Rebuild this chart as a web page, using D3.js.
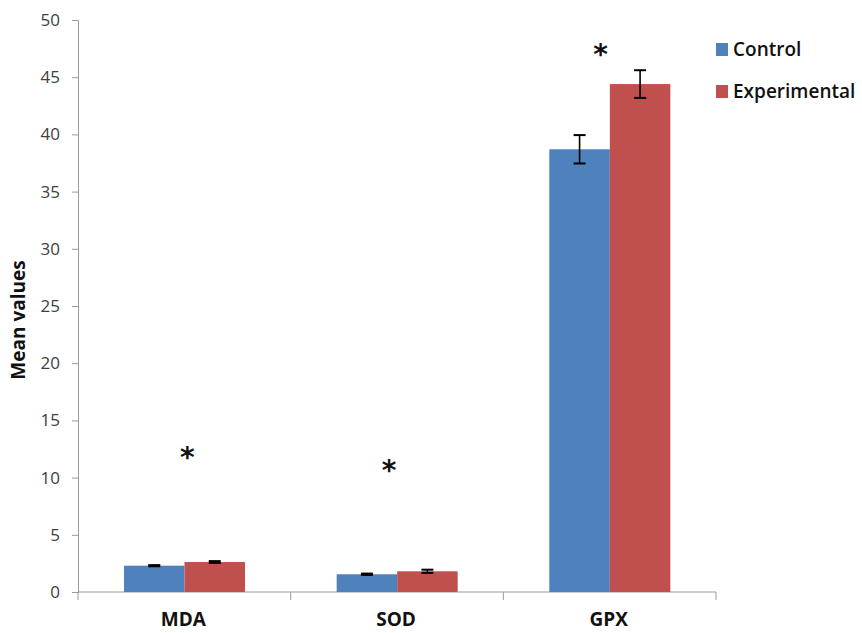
<!DOCTYPE html>
<html><head><meta charset="utf-8">
<script src="https://cdn.jsdelivr.net/npm/d3@7"></script>
<style>body{margin:0;background:#fff;} svg{display:block;}</style>
</head><body>
<svg id="c" width="862" height="633"></svg>
<script>
const categories = ["MDA", "SOD", "GPX"];
const seriesNames = ["Control", "Experimental"];
const controlValues = [2.3, 1.55, 38.7];
const experimentalValues = [2.62, 1.81, 44.4];
const controlErrors = [0.05, 0.06, 1.24];
const experimentalErrors = [0.08, 0.14, 1.21];
const starValues = [12.2, 11.1, 47.5];
const yTicks = [0, 5, 10, 15, 20, 25, 30, 35, 40, 45, 50];
const colors = ["#4f81bd", "#c0504d"];

const svg = d3.select("#c");
const font = "'Open Sans', 'Liberation Sans', sans-serif";
const axisColor = "#9a9a9a";

const y = d3.scaleLinear().domain([0, 50]).range([592, 20]);
const x0 = d3.scaleBand().domain(categories).range([78, 716]).paddingInner(0).paddingOuter(0);
const x1 = d3.scaleBand().domain(seriesNames).range([46, 46 + 121]);

const series = [controlValues, experimentalValues];
const errs = [controlErrors, experimentalErrors];

// y axis
const yAxis = svg.append("g").attr("transform", "translate(78,0)")
  .call(d3.axisLeft(y).tickValues(yTicks).tickSize(6).tickPadding(12));
yAxis.select(".domain").attr("stroke", axisColor);
yAxis.selectAll(".tick line").attr("stroke", axisColor);
yAxis.selectAll(".tick text").attr("fill", "#404040").style("font-family", font).style("font-size", "17px");

// x axis
const xAxisG = svg.append("g").attr("transform", "translate(0,592)");
xAxisG.append("line").attr("x1", 78).attr("x2", 716).attr("y1", 0).attr("y2", 0).attr("stroke", axisColor);
const tickXs = categories.map(c => x0(c)).concat([x0(categories[categories.length-1]) + x0.bandwidth()]);
xAxisG.selectAll(".xt").data(tickXs).enter().append("line")
  .attr("x1", d => d).attr("x2", d => d).attr("y1", 0).attr("y2", 8).attr("stroke", axisColor);
xAxisG.selectAll(".xl").data(categories).enter().append("text")
  .attr("x", d => x0(d) + x0.bandwidth()/2 - 1).attr("y", 34)
  .attr("text-anchor", "middle").attr("fill", "#111")
  .style("font-family", font).style("font-weight", "bold").style("font-size", "19px")
  .text(d => d);

// bars
series.forEach((vals, si) => {
  svg.append("g").selectAll("rect").data(categories).enter().append("rect")
    .attr("x", (d) => x0(d) + x1(seriesNames[si]))
    .attr("width", x1.bandwidth())
    .attr("y", (d, i) => y(vals[i]))
    .attr("height", (d, i) => y(0) - y(vals[i]))
    .attr("fill", colors[si]);
  // error bars
  const eg = svg.append("g").attr("stroke", "#000").attr("stroke-width", 1.6);
  categories.forEach((c, i) => {
    const cx = x0(c) + x1(seriesNames[si]) + x1.bandwidth()/2;
    const top = y(vals[i] + errs[si][i]), bot = y(vals[i] - errs[si][i]);
    eg.append("line").attr("x1", cx).attr("x2", cx).attr("y1", top).attr("y2", bot);
    eg.append("line").attr("x1", cx-6).attr("x2", cx+6).attr("y1", top).attr("y2", top).attr("stroke-width", 2);
    eg.append("line").attr("x1", cx-6).attr("x2", cx+6).attr("y1", bot).attr("y2", bot).attr("stroke-width", 2);
  });
});

// significance stars
const starOffsets = [3, -8, -9];
svg.append("g").selectAll("text").data(categories).enter().append("text")
  .attr("x", (d, i) => x0(d) + x0.bandwidth()/2 + starOffsets[i])
  .attr("y", (d, i) => y(starValues[i]) + 15)
  .attr("text-anchor", "middle").attr("fill", "#111")
  .style("font-family", "'DejaVu Sans', sans-serif").style("font-weight", "bold").style("font-size", "28px")
  .text("*");

// y title
svg.append("text").attr("transform", "translate(25,320) rotate(-90)")
  .attr("text-anchor", "middle").attr("fill", "#111")
  .style("font-family", font).style("font-weight", "bold").style("font-size", "19px")
  .text("Mean values");

// legend
const lg = svg.append("g");
seriesNames.forEach((s, i) => {
  lg.append("rect").attr("x", 716).attr("y", 43 + i*42).attr("width", 12).attr("height", 13).attr("fill", colors[i]);
  lg.append("text").attr("x", 733).attr("y", 56 + i*42).attr("fill", "#111")
    .style("font-family", font).style("font-weight", "600").style("font-size", "19px").text(s);
});
</script>
</body></html>
